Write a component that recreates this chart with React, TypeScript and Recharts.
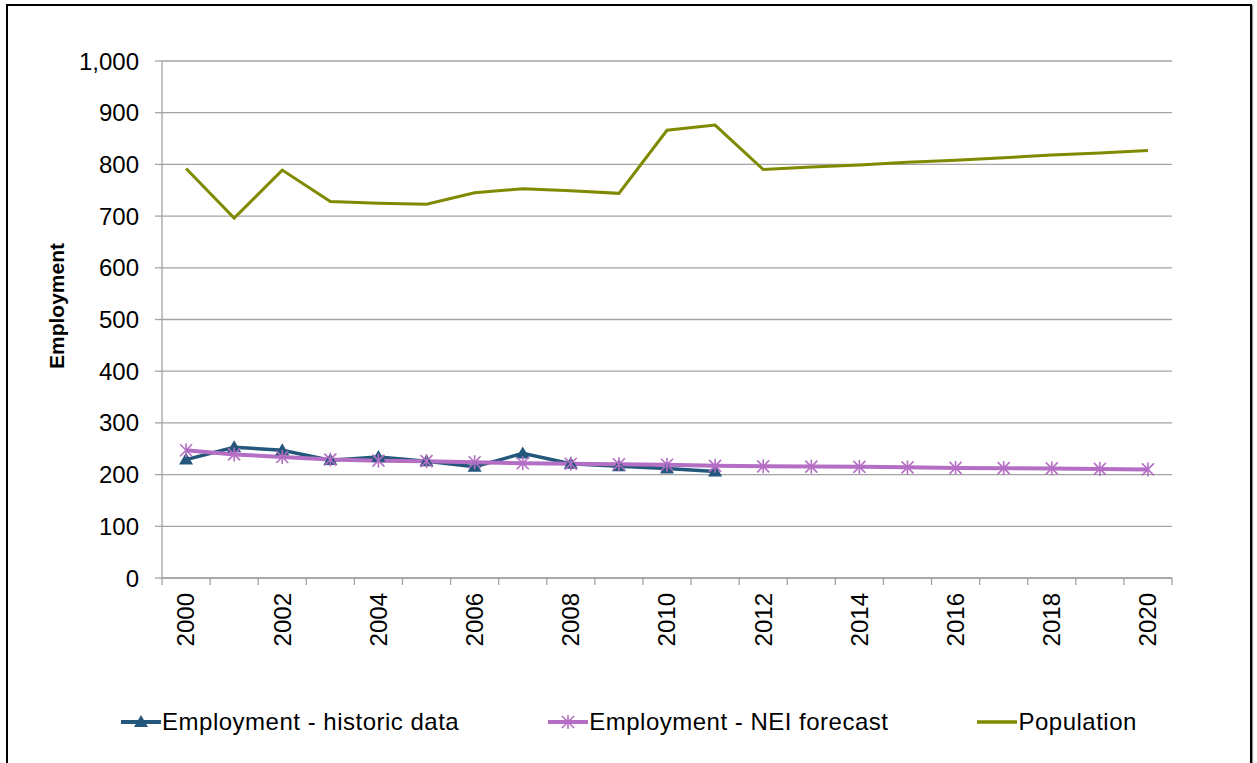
import React from 'react';
import { LineChart, Line, XAxis, YAxis, CartesianGrid, Legend } from 'recharts';

const years = [
  '2000', '2001', '2002', '2003', '2004', '2005', '2006', '2007', '2008', '2009', '2010',
  '2011', '2012', '2013', '2014', '2015', '2016', '2017', '2018', '2019', '2020',
];
// historic data stops at 2011
const historic = [229, 253, 247, 228, 234, 226, 215, 241, 221, 216, 212, 206];
const forecast = [247, 239, 234, 229, 227, 226, 224, 222, 221, 220, 219, 217, 216, 215.5, 215, 214, 213, 212.5, 212, 211, 210];
const population = [792, 696, 789, 728, 725, 723, 745, 753, 749, 744, 866, 876, 790, 795, 799, 804, 808, 813, 818, 822, 827];
const yTicks = [0, 100, 200, 300, 400, 500, 600, 700, 800, 900, 1000];
const seriesNames = ['Employment - historic data', 'Employment - NEI forecast', 'Population'];

const data = years.map((year, i) => ({
  year,
  historic: historic[i],
  forecast: forecast[i],
  population: population[i],
}));

const FONT = 'Arial, "Liberation Sans", sans-serif';
const GRID = '#A3A3A3';
const BLUE = '#24577C';
const PURPLE = '#B46FC5';
const OLIVE = '#808A00';

const W = 1257;
const H = 763;
const PLOT_LEFT = 162;
const PLOT_RIGHT = 1172;
const STEP = (PLOT_RIGHT - PLOT_LEFT) / years.length;

const YearTick = (props: any) => {
  const { x, y, index, payload } = props;
  return (
    <g>
      <line x1={x - STEP / 2} x2={x - STEP / 2} y1={y} y2={y + 7} stroke={GRID} strokeWidth={1.3} />
      {index === years.length - 1 && (
        <line x1={x + STEP / 2} x2={x + STEP / 2} y1={y} y2={y + 7} stroke={GRID} strokeWidth={1.3} />
      )}
      {index % 2 === 0 && (
        <text
          transform={`translate(${x},${y + 15}) rotate(-90)`}
          textAnchor="end"
          dy="0.35em"
          fontSize={24}
          fontFamily={FONT}
          fill="#000"
        >
          {payload.value}
        </text>
      )}
    </g>
  );
};

const Triangle = ({ cx, cy, fill }: { cx: number; cy: number; fill: string }) => (
  <polygon points={`${cx},${cy - 7} ${cx - 7},${cy + 5} ${cx + 7},${cy + 5}`} fill={fill} />
);

const Star = ({ cx, cy, stroke }: { cx: number; cy: number; stroke: string }) => (
  <g stroke={stroke} strokeWidth={1.6}>
    <line x1={cx} y1={cy - 7} x2={cx} y2={cy + 7} />
    <line x1={cx - 6} y1={cy - 6} x2={cx + 6} y2={cy + 6} />
    <line x1={cx - 6} y1={cy + 6} x2={cx + 6} y2={cy - 6} />
  </g>
);

const triangleDot = (p: any) => {
  if (p.cx == null || p.cy == null || p.value == null) return <g key={`t-${p.index}`} />;
  return <Triangle key={`t-${p.index}`} cx={p.cx} cy={p.cy} fill={BLUE} />;
};

const starDot = (p: any) => {
  if (p.cx == null || p.cy == null) return <g key={`s-${p.index}`} />;
  return <Star key={`s-${p.index}`} cx={p.cx} cy={p.cy} stroke={PURPLE} />;
};

const renderLegend = () => (
  <div
    style={{
      display: 'flex',
      justifyContent: 'center',
      alignItems: 'center',
      gap: 88,
      fontFamily: FONT,
      fontSize: 24,
      letterSpacing: 0.5,
      color: '#000',
    }}
  >
    <div style={{ display: 'flex', alignItems: 'center' }}>
      <svg width={42} height={20}>
        <line x1={1} y1={10} x2={41} y2={10} stroke={BLUE} strokeWidth={4} />
        <Triangle cx={21} cy={10} fill={BLUE} />
      </svg>
      <span>{seriesNames[0]}</span>
    </div>
    <div style={{ display: 'flex', alignItems: 'center' }}>
      <svg width={42} height={20}>
        <line x1={1} y1={10} x2={41} y2={10} stroke={PURPLE} strokeWidth={4} />
        <Star cx={21} cy={10} stroke={PURPLE} />
      </svg>
      <span>{seriesNames[1]}</span>
    </div>
    <div style={{ display: 'flex', alignItems: 'center' }}>
      <svg width={42} height={20}>
        <line x1={1} y1={10} x2={41} y2={10} stroke={OLIVE} strokeWidth={3.5} />
      </svg>
      <span>{seriesNames[2]}</span>
    </div>
  </div>
);

export default function App() {
  return (
    <div style={{ position: 'absolute', left: 0, top: 0, width: W, height: H, overflow: 'hidden', background: '#fff' }}>
      <div
        style={{
          position: 'absolute',
          left: 6,
          top: 4,
          width: 1246,
          height: 780,
          boxSizing: 'border-box',
          border: '2px solid #000',
          boxShadow: '1px 1px 1px #999',
        }}
      />
      <div style={{ position: 'absolute', left: 0, top: 0 }}>
        <LineChart width={W} height={H} data={data} margin={{ top: 61, right: W - PLOT_RIGHT, bottom: 65, left: 0 }}>
          <CartesianGrid vertical={false} stroke={GRID} strokeWidth={1.3} />
          <XAxis
            dataKey="year"
            interval={0}
            padding={{ left: STEP / 2, right: STEP / 2 }}
            height={120}
            tickSize={0}
            tickMargin={0}
            tickLine={false}
            axisLine={{ stroke: GRID, strokeWidth: 1.3 }}
            tick={<YearTick />}
          />
          <YAxis
            domain={[0, 1000]}
            ticks={yTicks}
            interval={0}
            width={PLOT_LEFT}
            tickSize={7}
            tickMargin={16}
            tickFormatter={(v: number) => v.toLocaleString('en-US')}
            axisLine={{ stroke: GRID, strokeWidth: 1.3 }}
            tickLine={{ stroke: GRID, strokeWidth: 1.3 }}
            tick={{ fill: '#000', fontSize: 24, fontFamily: FONT }}
            label={{
              content: () => (
                <text
                  x={56}
                  y={306}
                  transform="rotate(-90 56 306)"
                  textAnchor="middle"
                  dominantBaseline="central"
                  fontSize={21}
                  fontWeight="bold"
                  fontFamily={FONT}
                  fill="#000"
                >
                  Employment
                </text>
              ),
            }}
          />
          <Legend verticalAlign="middle" content={renderLegend} wrapperStyle={{ top: 708, left: 0, width: W }} />
          <Line
            dataKey="population"
            name={seriesNames[2]}
            type="linear"
            stroke={OLIVE}
            strokeWidth={3}
            dot={false}
            activeDot={false}
            isAnimationActive={false}
          />
          <Line
            dataKey="historic"
            name={seriesNames[0]}
            type="linear"
            stroke={BLUE}
            strokeWidth={3.5}
            dot={triangleDot}
            activeDot={false}
            isAnimationActive={false}
          />
          <Line
            dataKey="forecast"
            name={seriesNames[1]}
            type="linear"
            stroke={PURPLE}
            strokeWidth={4}
            dot={starDot}
            activeDot={false}
            isAnimationActive={false}
          />
        </LineChart>
      </div>
    </div>
  );
}
